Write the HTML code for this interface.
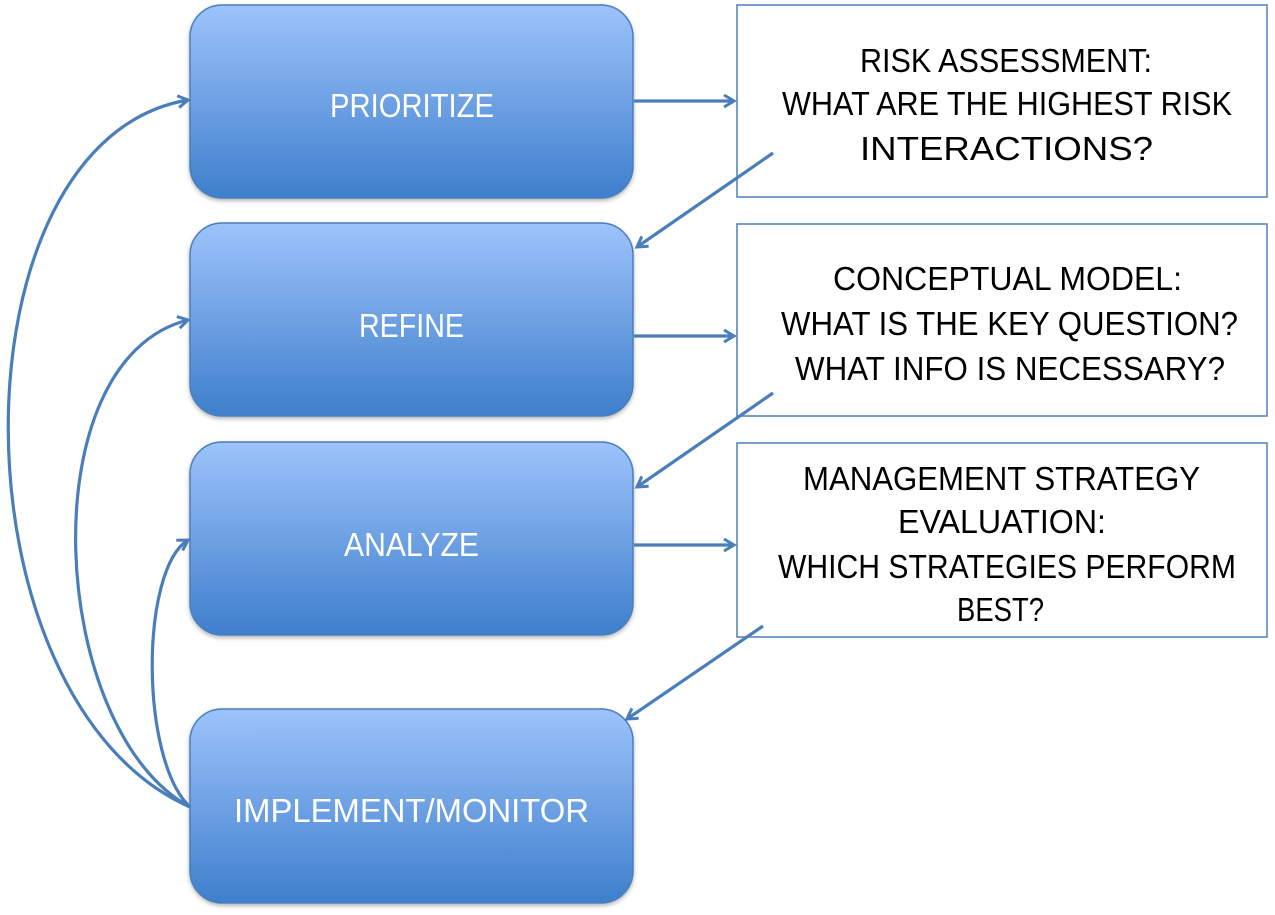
<!DOCTYPE html>
<html><head><style>html,body{margin:0;padding:0;background:#fff}svg{display:block}</style></head><body>
<svg width="1275" height="915" xmlns="http://www.w3.org/2000/svg" font-family="'Liberation Sans', sans-serif">
<defs>
<linearGradient id="g" x1="0" y1="0" x2="0" y2="1"><stop offset="0" stop-color="#9dc3fb"/><stop offset="1" stop-color="#3e7fcc"/></linearGradient>
<filter id="s" x="-5%" y="-5%" width="110%" height="115%"><feDropShadow dx="0" dy="2" stdDeviation="2" flood-color="#000" flood-opacity="0.3"/></filter>
<marker id="a" markerWidth="16" markerHeight="16" refX="12" refY="8" orient="auto" markerUnits="userSpaceOnUse"><path d="M2,2 L12,8 L2,14" fill="none" stroke="#4a7ebb" stroke-width="3"/></marker>
</defs>
<g fill="url(#g)" stroke="#4a7ebb" stroke-width="1.5" filter="url(#s)">
<rect x="190" y="5" width="443" height="193" rx="32"/>
<rect x="190" y="223" width="443" height="193" rx="32"/>
<rect x="190" y="442" width="443" height="193" rx="32"/>
<rect x="190" y="709" width="443" height="194" rx="32"/>
</g>
<g fill="#fff" stroke="#4a7ebb" stroke-width="1.5">
<rect x="737" y="5" width="530" height="192"/>
<rect x="737" y="224" width="530" height="192"/>
<rect x="737" y="443" width="530" height="194"/>
</g>
<g fill="#fff" font-size="33">
<text x="330" y="117" textLength="164" lengthAdjust="spacingAndGlyphs">PRIORITIZE</text>
<text x="359" y="337" textLength="105" lengthAdjust="spacingAndGlyphs">REFINE</text>
<text x="344" y="556" textLength="135" lengthAdjust="spacingAndGlyphs">ANALYZE</text>
<text x="234" y="822" textLength="355" lengthAdjust="spacingAndGlyphs">IMPLEMENT/MONITOR</text>
</g>
<g fill="#000" font-size="33">
<text x="860" y="72" textLength="292" lengthAdjust="spacingAndGlyphs">RISK ASSESSMENT:</text>
<text x="782" y="115" textLength="450" lengthAdjust="spacingAndGlyphs">WHAT ARE THE HIGHEST RISK</text>
<text x="860" y="160" textLength="293" lengthAdjust="spacingAndGlyphs">INTERACTIONS?</text>
<text x="833" y="290" textLength="349" lengthAdjust="spacingAndGlyphs">CONCEPTUAL MODEL:</text>
<text x="781" y="335" textLength="457" lengthAdjust="spacingAndGlyphs">WHAT IS THE KEY QUESTION?</text>
<text x="795" y="380" textLength="430" lengthAdjust="spacingAndGlyphs">WHAT INFO IS NECESSARY?</text>
<text x="803" y="490" textLength="397" lengthAdjust="spacingAndGlyphs">MANAGEMENT STRATEGY</text>
<text x="898" y="533" textLength="208" lengthAdjust="spacingAndGlyphs">EVALUATION:</text>
<text x="778" y="578" textLength="458" lengthAdjust="spacingAndGlyphs">WHICH STRATEGIES PERFORM</text>
<text x="957" y="621" textLength="87" lengthAdjust="spacingAndGlyphs">BEST?</text>
</g>
<g fill="none" stroke="#4a7ebb" stroke-width="3.2" marker-end="url(#a)">
<line x1="634" y1="101" x2="734" y2="101"/>
<line x1="634" y1="336" x2="734" y2="336"/>
<line x1="634" y1="545" x2="734" y2="545"/>
<line x1="773" y1="153" x2="637" y2="247"/>
<line x1="773" y1="393" x2="637" y2="487"/>
<line x1="763" y1="626" x2="627" y2="719"/>
<path d="M190,807 C-52,700 -52,140 188,100"/>
<path d="M190,807 C48,730 28,360 188,320"/>
<path d="M190,807 C140,760 140,570 188,540"/>
</g>
</svg>
</body></html>
